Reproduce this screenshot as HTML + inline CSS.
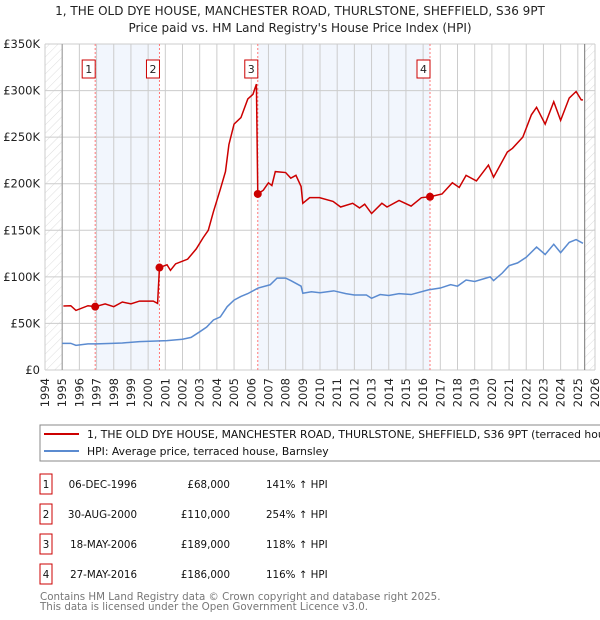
<!DOCTYPE html>
<html><head><meta charset="utf-8">
<style>
body{margin:0;width:600px;height:620px;background:#fff;font-family:"DejaVu Sans","Liberation Sans",sans-serif;overflow:hidden;position:relative}
svg{position:absolute;left:0;top:0}
</style></head><body>
<svg id="chart" width="600" height="620"></svg>
<script>
const hpiYears=[1995.0,1995.5,1995.8,1996.5,1997.0,1997.9,1998.5,1999.5,2000.3,2001.1,2002.0,2002.5,2003.0,2003.4,2003.8,2004.2,2004.6,2005.0,2005.4,2005.8,2006.4,2007.1,2007.5,2008.0,2008.3,2008.9,2009.0,2009.5,2010.0,2010.8,2011.5,2012.0,2012.7,2013.0,2013.5,2014.0,2014.6,2015.3,2016.3,2017.0,2017.6,2018.0,2018.5,2019.0,2019.9,2020.1,2020.6,2021.0,2021.5,2022.0,2022.6,2023.1,2023.6,2024.0,2024.5,2024.9,2025.3];
const hpiValues=[28.6,28.6,26.5,28,28,28.6,29,30.4,31,31.5,33,35,41,46,53.7,57,68,75,79,82,88,91.5,98.7,98.7,96,90,82.4,84,83,85,82,80.5,80.5,77,81,80,82,81,86,88,91.6,90,96.6,95,100,96,104,112,115,121,132,124,135,126,137,140,136];
const priceYears=[1995.07,1995.5,1995.8,1996.5,1996.92,1997.5,1998.0,1998.5,1999.0,1999.5,2000.3,2000.55,2000.66,2001.1,2001.3,2001.6,2002.3,2002.8,2003.2,2003.5,2003.8,2004.2,2004.5,2004.7,2005.0,2005.4,2005.8,2006.1,2006.3,2006.38,2006.7,2007.0,2007.2,2007.4,2008.0,2008.3,2008.6,2008.9,2009.0,2009.4,2009.97,2010.76,2011.2,2011.9,2012.3,2012.6,2013.0,2013.6,2013.9,2014.6,2015.3,2015.9,2016.4,2017.1,2017.7,2018.1,2018.5,2019.1,2019.8,2020.1,2020.9,2021.2,2021.8,2022.3,2022.6,2023.1,2023.6,2024.0,2024.5,2024.9,2025.2,2025.3];
const priceValues=[68.7,69,64,69,68,71,68,73,71,74,74,71.5,110,113,107,114,119,130,142,150,170,194,213,242,264,271,291,296,307,189,193,201,198,213,212,206,209,197,179,185,185,181,175,179,174,178,168,179,175,182,176,185,186,189,201,196,209,203,220,207,234,238,250,274,282,264,288,268,292,299,290,290];
const saleYears=[1996.92,2000.66,2006.38,2016.4];
const salePrices=[68,110,189,186];
const saleLabels=["1","2","3","4"];
const yTicks=[0,50,100,150,200,250,300,350];
const yTickLabels=["£0","£50K","£100K","£150K","£200K","£250K","£300K","£350K"];
const xYears=[1994,1995,1996,1997,1998,1999,2000,2001,2002,2003,2004,2005,2006,2007,2008,2009,2010,2011,2012,2013,2014,2015,2016,2017,2018,2019,2020,2021,2022,2023,2024,2025,2026];
const dates=["06-DEC-1996","30-AUG-2000","18-MAY-2006","27-MAY-2016"];
const prices=["£68,000","£110,000","£189,000","£186,000"];
const pcts=["141% ↑ HPI","254% ↑ HPI","118% ↑ HPI","116% ↑ HPI"];

const NS="http://www.w3.org/2000/svg";
const svg=document.getElementById('chart');
const X0=45,X1=595,Y0=370,Y1=44;
const xs=y=>X0+(y-1994)/(2026-1994)*(X1-X0);
const ys=v=>Y0-(v/350)*(Y0-Y1);
function el(tag,attrs,parent){const e=document.createElementNS(NS,tag);for(const k in attrs)e.setAttribute(k,attrs[k]);(parent||svg).appendChild(e);return e;}
function txt(s,attrs,parent){const e=el('text',attrs,parent);e.textContent=s;return e;}

const defs=el('defs',{});
const pat=el('pattern',{id:'hatch',width:6,height:6,patternUnits:'userSpaceOnUse',patternTransform:'rotate(45)'},defs);
el('line',{x1:0,y1:0,x2:0,y2:6,stroke:'#ddd','stroke-width':1},pat);

let t=txt("1, THE OLD DYE HOUSE, MANCHESTER ROAD, THURLSTONE, SHEFFIELD, S36 9PT",{x:300,y:15,'text-anchor':'middle','font-size':12,fill:'#222'});

t=txt("Price paid vs. HM Land Registry's House Price Index (HPI)",{x:300,y:32,'text-anchor':'middle','font-size':12,fill:'#222'});


for(let i=0;i<saleYears.length;i+=2){
  const r=el('rect',{x:xs(saleYears[i]),y:Y1,width:xs(saleYears[i+1])-xs(saleYears[i]),height:Y0-Y1,fill:'#f2f6fd'});
  
}
let h=el('rect',{x:X0,y:Y1,width:xs(1995)-X0,height:Y0-Y1,fill:'url(#hatch)'});

h=el('rect',{x:xs(2025.4),y:Y1,width:X1-xs(2025.4),height:Y0-Y1,fill:'url(#hatch)'});

xYears.forEach(y=>{
  const l=el('line',{x1:xs(y),x2:xs(y),y1:Y1,y2:Y0,stroke:'#ccc','stroke-width':1});
  
  const lb=txt(String(y),{x:0,y:0,transform:`translate(${xs(y)+4},${Y0+8}) rotate(-90)`,'text-anchor':'end','font-size':11.5,fill:'#222'});
  
});
yTicks.forEach((v,i)=>{
  const l=el('line',{x1:X0,x2:X1,y1:ys(v),y2:ys(v),stroke:'#ccc','stroke-width':1});
  
  const lb=txt(yTickLabels[i],{x:40,y:ys(v)+4,'text-anchor':'end','font-size':11.5,fill:'#222'});
  
});
let ax=el('line',{x1:xs(1995),x2:xs(1995),y1:Y1,y2:Y0,stroke:'#999'});

ax=el('line',{x1:xs(2025.4),x2:xs(2025.4),y1:Y1,y2:Y0,stroke:'#777'});

saleYears.forEach((y,i)=>{
  const l=el('line',{x1:xs(y),x2:xs(y),y1:Y1,y2:Y0,stroke:'#f77','stroke-width':1,'stroke-dasharray':'2,2'});
  
  const b=el('rect',{x:xs(y)-13,y:60,width:13,height:18,fill:'#fff',stroke:'#c00','stroke-width':1});
  
  const tl=txt(saleLabels[i],{x:xs(y)-6.5,y:73,'text-anchor':'middle','font-size':11,fill:'#222'});
  
});
const hp=el('polyline',{points:hpiYears.map((y,i)=>xs(y)+','+ys(hpiValues[i])).join(' '),fill:'none',stroke:'#5b8bd0','stroke-width':1.5});

const pp=el('polyline',{points:priceYears.map((y,i)=>xs(y)+','+ys(priceValues[i])).join(' '),fill:'none',stroke:'#cc0000','stroke-width':1.5});

saleYears.forEach((y,i)=>{
  const c=el('circle',{cx:xs(y),cy:ys(salePrices[i]),r:4,fill:'#cc0000'});
  
});
const lg=el('g',{});

el('rect',{x:40,y:425,width:580,height:36,fill:'#fff',stroke:'#888'},lg);
el('line',{x1:44,x2:79,y1:434,y2:434,stroke:'#cc0000','stroke-width':2},lg);
el('line',{x1:44,x2:79,y1:451,y2:451,stroke:'#5b8bd0','stroke-width':2},lg);
t=txt("1, THE OLD DYE HOUSE, MANCHESTER ROAD, THURLSTONE, SHEFFIELD, S36 9PT (terraced house)",{x:87,y:438,'font-size':10.8,fill:'#111'},lg);

t=txt("HPI: Average price, terraced house, Barnsley",{x:87,y:455,'font-size':10.8,fill:'#111'},lg);

dates.forEach((d,i)=>{
  const cy=484+i*30;
  const g=el('g',{});
  
  el('rect',{x:40,y:cy-10,width:12,height:20,fill:'#fff',stroke:'#c00'},g);
  txt(saleLabels[i],{x:46,y:cy+4,'text-anchor':'middle','font-size':10.3,fill:'#111'},g);
  txt(d,{x:137,y:cy+4,'text-anchor':'end','font-size':10.3,fill:'#111'},g);
  txt(prices[i],{x:230,y:cy+4,'text-anchor':'end','font-size':10.3,fill:'#111'},g);
  txt(pcts[i],{x:266,y:cy+4,'font-size':10.3,fill:'#111'},g);
});
t=txt("Contains HM Land Registry data © Crown copyright and database right 2025.",{x:40,y:600,'font-size':10.3,fill:'#777'});

t=txt("This data is licensed under the Open Government Licence v3.0.",{x:40,y:610,'font-size':10.3,fill:'#777'});

</script>
</body></html>
